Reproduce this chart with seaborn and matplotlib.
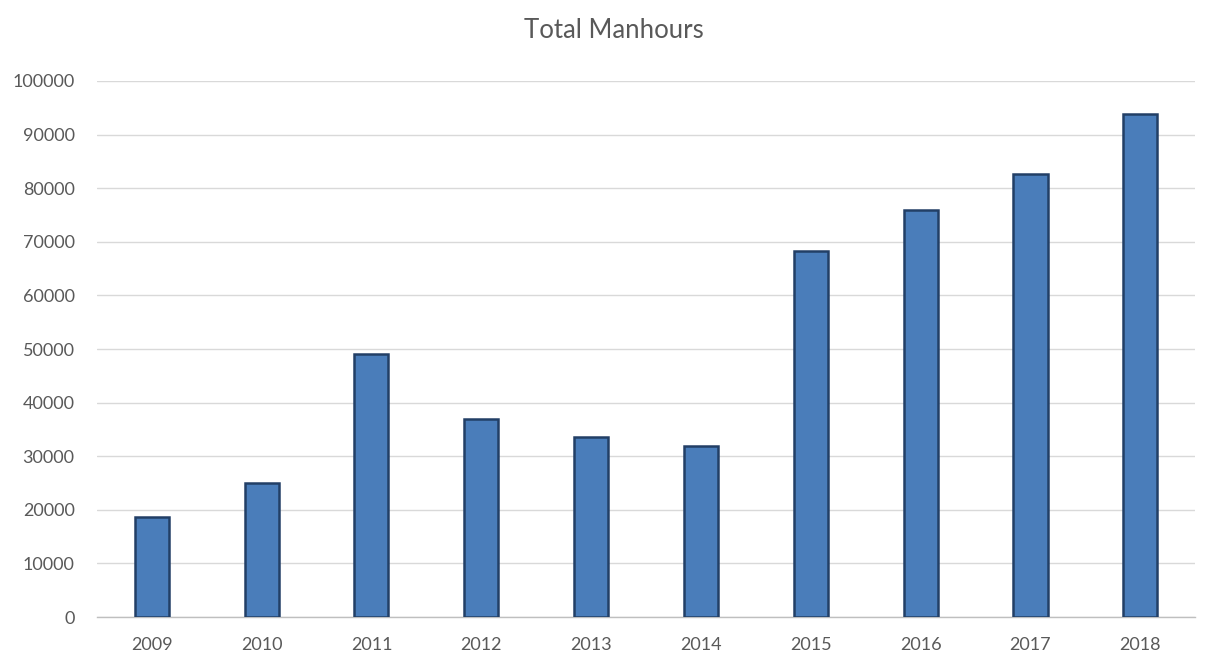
import matplotlib
matplotlib.use("Agg")
import matplotlib.pyplot as plt
import seaborn as sns
import pandas as pd

years = ["2009", "2010", "2011", "2012", "2013", "2014", "2015", "2016", "2017", "2018"]
manhours = [18600, 25000, 49000, 37000, 33500, 32000, 68200, 75900, 82600, 93800]
yticks = [0, 10000, 20000, 30000, 40000, 50000, 60000, 70000, 80000, 90000, 100000]

df = pd.DataFrame({"year": years, "manhours": manhours})

sns.set_theme(style="white")
plt.rcParams["font.family"] = ["Lato", "DejaVu Sans"]

fig = plt.figure(figsize=(12.11, 6.53), dpi=100)
ax = fig.add_axes([0.080, 0.055, 0.907, 0.821])

sns.barplot(data=df, x="year", y="manhours", color="#4A7DBA", width=0.31,
            edgecolor="#223F66", linewidth=1.8, saturation=1, ax=ax, zorder=3)

ax.set_ylim(0, 100000)
ax.set_yticks(yticks)
ax.set_yticklabels([str(v) for v in yticks])
ax.set_xlim(-0.5, len(years) - 0.5)
ax.set_xlabel("")
ax.set_ylabel("")
ax.yaxis.grid(True, color="#D9D9D9", linewidth=1.0, zorder=0)
ax.set_axisbelow(True)
for s in ["top", "right", "left"]:
    ax.spines[s].set_visible(False)
ax.spines["bottom"].set_color("#BFBFBF")
ax.spines["bottom"].set_linewidth(1.0)
ax.tick_params(axis="both", length=0, labelsize=13, labelcolor="#595959")
ax.tick_params(axis="x", pad=14)
ax.tick_params(axis="y", pad=16)

fig.suptitle("Total Manhours", x=0.507, y=0.972, fontsize=18.5, color="#595959")

fig.savefig("out.png", dpi=100)
